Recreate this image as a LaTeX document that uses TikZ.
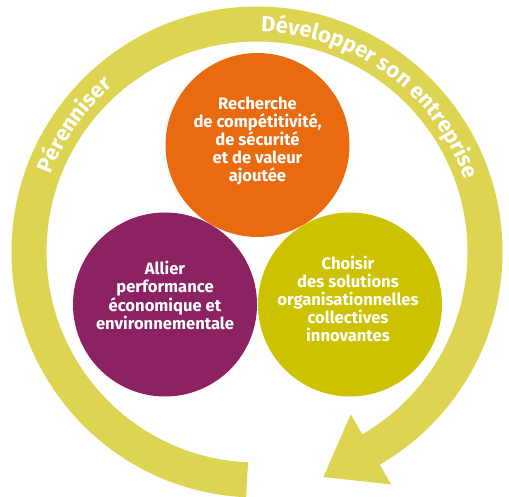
\documentclass[tikz,border=0pt]{standalone}
\usepackage{fontspec}
\setmainfont{Fira Sans}
\usetikzlibrary{calc,decorations.text}
\definecolor{ringyellow}{HTML}{DDD452}
\definecolor{discorange}{HTML}{E96A0F}
\definecolor{discpurple}{HTML}{8C2262}
\definecolor{discolive}{HTML}{CCC200}
\newcommand{\ringfont}{\color{white}\bfseries\fontsize{22}{22}\selectfont}
\tikzset{
	disc/.style={circle, minimum size=184pt, inner sep=0pt},
	disctext/.style={text=white, align=center, font=\bfseries\fontsize{16.6}{18.2}\selectfont}
}

\begin{document}
\begin{tikzpicture}[x=1pt, y=1pt]
			%%%%% START %%%%%
			\useasboundingbox (0, 0) rectangle (509, -497);
			
			\coordinate (ringcenter) at (257, -252);
			\coordinate (shaftend) at ($(ringcenter)+(-60:228)$);
			
			\draw[line width=35pt, color=ringyellow] ($(ringcenter)+(267.5:228)$) arc (267.5:-60:228);
			\fill[ringyellow] ($(shaftend)+(-60:40.5)$) -- ($(shaftend)+(120:40.5)$) -- ($(shaftend)+(210:55)$) -- cycle;
			
			\path[decorate, decoration={text along path, text={|\ringfont|Pérenniser}}] ($(ringcenter)+(159.5:220)$) arc (159.5:120:220);
			\path[decorate, decoration={text along path, text={|\ringfont|Développer son entreprise}}] ($(ringcenter)+(89:220)$) arc (89:10:220);
			
			\node[disc, fill=discorange] (recherche) at (257.5, -145) {};
			\node[disc, fill=discpurple] (allier) at (165, -304.5) {};
			\node[disc, fill=discolive] (choisir) at (350, -304.5) {};
			
			\node[disctext] (recherche-text) at ([yshift=4]recherche.center) {Recherche\\de compétitivité,\\de sécurité\\et de valeur\\ajoutée};
			\node[disctext] (allier-text) at ([yshift=9]allier.center) {Allier\\performance\\économique et\\environnementale};
			\node[disctext] (choisir-text) at ([xshift=-2, yshift=5.5]choisir.center) {Choisir\\des solutions\\organisationnelles\\collectives\\innovantes};
			%%%%% END %%%%%
\end{tikzpicture}
\end{document}
